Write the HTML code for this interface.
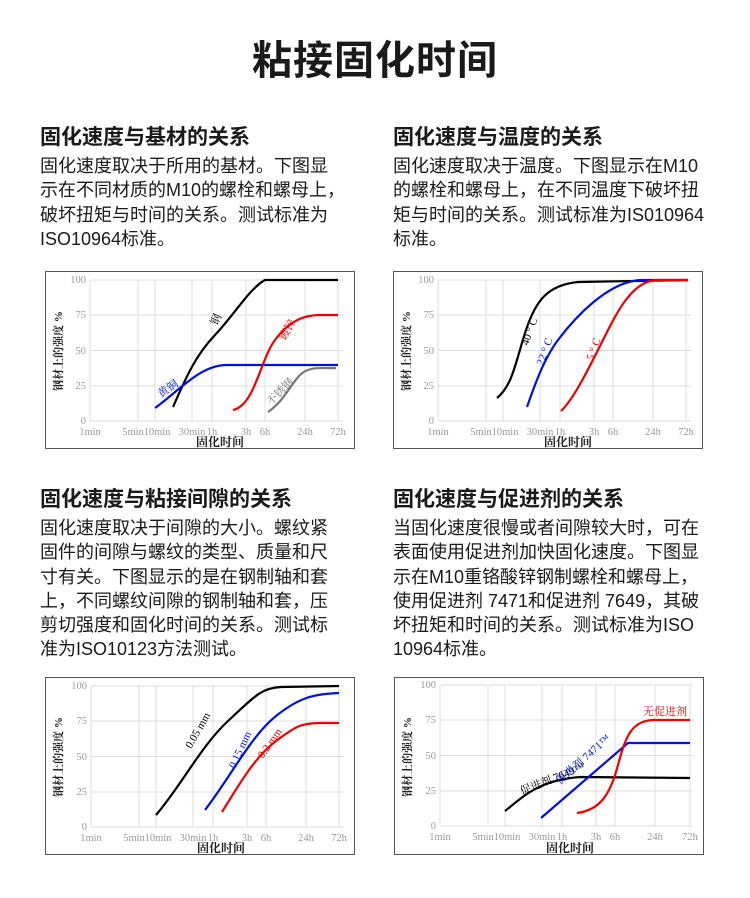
<!DOCTYPE html>
<html><head><meta charset="utf-8"><style>
body{margin:0;width:750px;height:898px;background:#fff;position:relative;overflow:hidden;font-family:"Liberation Sans","Noto Sans CJK SC",sans-serif;color:#1a1a1a}
.a{position:absolute;white-space:nowrap}
.t{left:0;width:750px;text-align:center;top:28px;font-size:40px;font-weight:bold;letter-spacing:1px}
.h{font-size:21px;font-weight:bold}
.p{font-size:18px;line-height:24.3px}
svg{position:absolute}
svg text{font-family:"Liberation Serif","Noto Serif CJK SC",serif}
.tk{font-size:10.5px;fill:#999}
.yl{font-size:10.5px;fill:#999}
</style></head><body>
<div class="a t">粘接固化时间</div>

<div class="a h" style="left:40px;top:121px">固化速度与基材的关系</div>
<div class="a p" style="left:40px;top:154px">固化速度取决于所用的基材。下图显<br>示在不同材质的M10的螺栓和螺母上，<br>破坏扭矩与时间的关系。测试标准为<br>ISO10964标准。</div>
<div class="a h" style="left:393px;top:121px">固化速度与温度的关系</div>
<div class="a p" style="left:393px;top:154px">固化速度取决于温度。下图显示在M10<br>的螺栓和螺母上，在不同温度下破坏扭<br>矩与时间的关系。测试标准为IS010964<br>标准。</div>

<div class="a h" style="left:40px;top:483px">固化速度与粘接间隙的关系</div>
<div class="a p" style="left:40px;top:516px">固化速度取决于间隙的大小。螺纹紧<br>固件的间隙与螺纹的类型、质量和尺<br>寸有关。下图显示的是在钢制轴和套<br>上，不同螺纹间隙的钢制轴和套，压<br>剪切强度和固化时间的关系。测试标<br>准为ISO10123方法测试。</div>
<div class="a h" style="left:393px;top:483px">固化速度与促进剂的关系</div>
<div class="a p" style="left:393px;top:516px">当固化速度很慢或者间隙较大时，可在<br>表面使用促进剂加快固化速度。下图显<br>示在M10重铬酸锌钢制螺栓和螺母上，<br>使用促进剂 7471和促进剂 7649，其破<br>坏扭矩和时间的关系。测试标准为ISO<br>10964标准。</div>

<svg style="left:45px;top:271px" width="311" height="179">
<rect x="0.5" y="0.5" width="309" height="177" fill="#fff" stroke="#555"/>
<g transform="translate(45,9)" stroke="#ddd" stroke-width="1">
<line x1="0" y1="0" x2="253" y2="0"/><line x1="0" y1="35" x2="253" y2="35"/><line x1="0" y1="70.5" x2="253" y2="70.5"/><line x1="0" y1="106" x2="253" y2="106"/><line x1="0" y1="141" x2="253" y2="141"/>
<line x1="0" y1="0" x2="0" y2="141"/><line x1="48" y1="0" x2="48" y2="141"/><line x1="65" y1="0" x2="65" y2="141"/><line x1="102" y1="0" x2="102" y2="141"/><line x1="122" y1="0" x2="122" y2="141"/><line x1="156" y1="0" x2="156" y2="141"/><line x1="175" y1="0" x2="175" y2="141"/><line x1="215" y1="0" x2="215" y2="141"/><line x1="248" y1="0" x2="248" y2="141"/>
</g>
<g class="yl" text-anchor="end"><text x="41" y="12">100</text><text x="41" y="47">75</text><text x="41" y="83">50</text><text x="41" y="118">25</text><text x="41" y="153">0</text></g>
<g class="tk" text-anchor="middle"><text x="45" y="164">1min</text><text x="88" y="164">5min</text><text x="112" y="164">10min</text><text x="147" y="164">30min</text><text x="167" y="164">1h</text><text x="201" y="164">3h</text><text x="220" y="164">6h</text><text x="260" y="164">24h</text><text x="293" y="164">72h</text></g>
<text x="175" y="175" text-anchor="middle" font-size="12" font-weight="bold" fill="#222">固化时间</text>
<text transform="translate(17,80) rotate(-90)" text-anchor="middle" font-size="11" font-weight="bold" fill="#222">钢材上的强度 %</text>
<g transform="translate(45,9)" fill="none" stroke-width="2.2">
<path d="M83,127 C97,95 106,75 125,55 S160,8 175,0 L248,0" stroke="#000"/>
<path d="M65,128 C90,110 110,85 137,85 L248,85" stroke="#0010e0"/>
<path d="M143,130 C165,125 170,80 185,60 S215,35 230,35 L248,35" stroke="#e00"/>
<path d="M178,132 C195,120 200,105 210,95 S235,89 246,88" stroke="#777"/>
</g>
<text transform="translate(172,55) rotate(-65)" font-size="11" fill="#000">钢</text>
<text transform="translate(116,127) rotate(-35)" font-size="11" fill="#0010e0">黄铜</text>
<text transform="translate(240,70) rotate(-60)" font-size="11" fill="#e00">镀锌</text>
<text transform="translate(226,135) rotate(-45)" font-size="11" fill="#777">不锈钢</text>
</svg>

<svg style="left:393px;top:271px" width="311" height="179">
<rect x="0.5" y="0.5" width="309" height="177" fill="#fff" stroke="#555"/>
<g transform="translate(45,9)" stroke="#ddd" stroke-width="1">
<line x1="0" y1="0" x2="253" y2="0"/><line x1="0" y1="35" x2="253" y2="35"/><line x1="0" y1="70.5" x2="253" y2="70.5"/><line x1="0" y1="106" x2="253" y2="106"/><line x1="0" y1="141" x2="253" y2="141"/>
<line x1="0" y1="0" x2="0" y2="141"/><line x1="48" y1="0" x2="48" y2="141"/><line x1="65" y1="0" x2="65" y2="141"/><line x1="102" y1="0" x2="102" y2="141"/><line x1="122" y1="0" x2="122" y2="141"/><line x1="156" y1="0" x2="156" y2="141"/><line x1="175" y1="0" x2="175" y2="141"/><line x1="215" y1="0" x2="215" y2="141"/><line x1="248" y1="0" x2="248" y2="141"/>
</g>
<g class="yl" text-anchor="end"><text x="41" y="12">100</text><text x="41" y="47">75</text><text x="41" y="83">50</text><text x="41" y="118">25</text><text x="41" y="153">0</text></g>
<g class="tk" text-anchor="middle"><text x="45" y="164">1min</text><text x="88" y="164">5min</text><text x="112" y="164">10min</text><text x="147" y="164">30min</text><text x="167" y="164">1h</text><text x="201" y="164">3h</text><text x="220" y="164">6h</text><text x="260" y="164">24h</text><text x="293" y="164">72h</text></g>
<text x="175" y="175" text-anchor="middle" font-size="12" font-weight="bold" fill="#222">固化时间</text>
<text transform="translate(17,80) rotate(-90)" text-anchor="middle" font-size="11" font-weight="bold" fill="#222">钢材上的强度 %</text>
<g transform="translate(45,9)" fill="none" stroke-width="2.2">
<path d="M59,118 C75,105 78,80 88,50 S110,5 140,2 L250,0" stroke="#000"/>
<path d="M89,127 C95,110 105,80 120,60 S170,0 205,0 L250,0" stroke="#0010e0"/>
<path d="M123,131 C135,120 150,90 165,60 S195,0 220,0 L250,0" stroke="#e00"/>
</g>
<text transform="translate(135,75) rotate(-70)" font-size="11" fill="#000">40 ° C</text>
<text transform="translate(150,95) rotate(-70)" font-size="11" fill="#0010e0">22 ° C</text>
<text transform="translate(200,90) rotate(-70)" font-size="11" fill="#e00">5 ° C</text>
</svg>

<svg style="left:45px;top:677px" width="311" height="179">
<rect x="0.5" y="0.5" width="309" height="177" fill="#fff" stroke="#555"/>
<g transform="translate(46,9)" stroke="#ddd" stroke-width="1">
<line x1="0" y1="0" x2="253" y2="0"/><line x1="0" y1="35" x2="253" y2="35"/><line x1="0" y1="70.5" x2="253" y2="70.5"/><line x1="0" y1="106" x2="253" y2="106"/><line x1="0" y1="141" x2="253" y2="141"/>
<line x1="0" y1="0" x2="0" y2="141"/><line x1="48" y1="0" x2="48" y2="141"/><line x1="65" y1="0" x2="65" y2="141"/><line x1="102" y1="0" x2="102" y2="141"/><line x1="122" y1="0" x2="122" y2="141"/><line x1="156" y1="0" x2="156" y2="141"/><line x1="175" y1="0" x2="175" y2="141"/><line x1="215" y1="0" x2="215" y2="141"/><line x1="248" y1="0" x2="248" y2="141"/>
</g>
<g class="yl" text-anchor="end"><text x="42" y="12">100</text><text x="42" y="47">75</text><text x="42" y="83">50</text><text x="42" y="118">25</text><text x="42" y="153">0</text></g>
<g class="tk" text-anchor="middle"><text x="46" y="164">1min</text><text x="89" y="164">5min</text><text x="113" y="164">10min</text><text x="148" y="164">30min</text><text x="168" y="164">1h</text><text x="202" y="164">3h</text><text x="221" y="164">6h</text><text x="261" y="164">24h</text><text x="294" y="164">72h</text></g>
<text x="176" y="175" text-anchor="middle" font-size="12" font-weight="bold" fill="#222">固化时间</text>
<text transform="translate(17,80) rotate(-90)" text-anchor="middle" font-size="11" font-weight="bold" fill="#222">钢材上的强度 %</text>
<g transform="translate(46,9)" fill="none" stroke-width="2.2">
<path d="M65,129 C90,100 110,60 137,35 S170,2 190,1 L248,0" stroke="#000"/>
<path d="M114,124 C140,90 160,50 185,30 S225,8 248,7" stroke="#0010e0"/>
<path d="M131,126 C150,95 165,70 185,55 S210,37 230,37 L248,37" stroke="#e00"/>
</g>
<text transform="translate(146,72) rotate(-60)" font-size="11" fill="#000">0.05 mm</text>
<text transform="translate(190,92) rotate(-65)" font-size="11" fill="#0010e0">0.15 mm</text>
<text transform="translate(218,82) rotate(-55)" font-size="11" fill="#e00">0.2 mm</text>
</svg>

<svg style="left:394px;top:677px" width="311" height="179">
<rect x="0.5" y="0.5" width="309" height="177" fill="#fff" stroke="#555"/>
<g transform="translate(46,8)" stroke="#ddd" stroke-width="1">
<line x1="0" y1="0" x2="253" y2="0"/><line x1="0" y1="35" x2="253" y2="35"/><line x1="0" y1="70.5" x2="253" y2="70.5"/><line x1="0" y1="106" x2="253" y2="106"/><line x1="0" y1="141" x2="253" y2="141"/>
<line x1="0" y1="0" x2="0" y2="141"/><line x1="48" y1="0" x2="48" y2="141"/><line x1="65" y1="0" x2="65" y2="141"/><line x1="102" y1="0" x2="102" y2="141"/><line x1="122" y1="0" x2="122" y2="141"/><line x1="156" y1="0" x2="156" y2="141"/><line x1="175" y1="0" x2="175" y2="141"/><line x1="215" y1="0" x2="215" y2="141"/><line x1="250" y1="0" x2="250" y2="141"/>
</g>
<g class="yl" text-anchor="end"><text x="42" y="11">100</text><text x="42" y="46">75</text><text x="42" y="82">50</text><text x="42" y="117">25</text><text x="42" y="152">0</text></g>
<g class="tk" text-anchor="middle"><text x="46" y="163">1min</text><text x="89" y="163">5min</text><text x="113" y="163">10min</text><text x="148" y="163">30min</text><text x="168" y="163">1h</text><text x="202" y="163">3h</text><text x="221" y="163">6h</text><text x="261" y="163">24h</text><text x="296" y="163">72h</text></g>
<text x="176" y="175" text-anchor="middle" font-size="12" font-weight="bold" fill="#222">固化时间</text>
<text transform="translate(17,80) rotate(-90)" text-anchor="middle" font-size="11" font-weight="bold" fill="#222">钢材上的强度 %</text>
<g transform="translate(46,8)" fill="none" stroke-width="2.2">
<path d="M65,126 C85,110 100,95 140,92 L250,93" stroke="#000"/>
<path d="M101,133 L188,58 L250,58" stroke="#0010e0"/>
<path d="M137,128 C160,125 170,110 178,80 S192,35 215,35 L250,35" stroke="#e00"/>
</g>
<text x="249" y="38" font-size="11" fill="#e00">无促进剂</text>
<text transform="translate(128,118) rotate(-22)" font-size="11" fill="#000">促进剂 7649™</text>
<text transform="translate(166,108) rotate(-42)" font-size="11" fill="#0010e0">促进剂 7471™</text>
</svg>
</body></html>
